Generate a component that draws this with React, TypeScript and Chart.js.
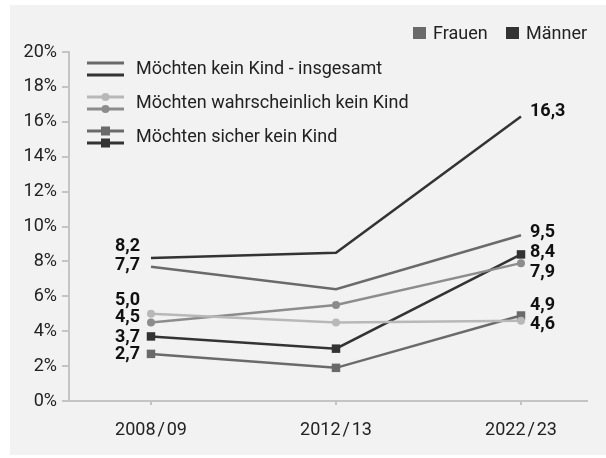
import React, { useEffect, useRef } from "react";
import { Chart, registerables } from "chart.js";

Chart.register(...registerables);

const periods = ["2008\u200A/\u200A09", "2012\u200A/\u200A13", "2022\u200A/\u200A23"];
const yMax = 20;
const yStep = 2;

const insgesamtFrauen = [7.7, 6.4, 9.5];
const insgesamtMaenner = [8.2, 8.5, 16.3];
const wahrscheinlichFrauen = [5.0, 4.5, 4.6];
const wahrscheinlichMaenner = [4.5, 5.5, 7.9];
const sicherFrauen = [2.7, 1.9, 4.9];
const sicherMaenner = [3.7, 3.0, 8.4];

const genderLabels = ["Frauen", "Männer"];
const seriesLabels = [
  "Möchten kein Kind - insgesamt",
  "Möchten wahrscheinlich kein Kind",
  "Möchten sicher kein Kind",
];

// presentation only: vertical nudges of the end labels (px)
const leftNudge = [-1, -11, -13, -5, 1, 1];
const rightNudge = [-3, -5, 4, 9, -10, -2];

const FONT = "Roboto";
const C_DARK = "#333333";
const C_MID = "#6a6a6a";
const C_WAHR_M = "#8c8c8c";
const C_WAHR_F = "#b8b8b8";

const fmt = (v: number) => v.toFixed(1).replace(".", ",");

export default function App() {
  const ref = useRef<HTMLCanvasElement>(null);

  useEffect(() => {
    document.body.style.margin = "0";
    const ctxEl = ref.current!;
    const mk = (d: number[]) => d.map((y, i) => ({ x: i, y }));

    const labelPlugin = {
      id: "endLabels",
      afterDatasetsDraw(chart: any) {
        const { ctx } = chart;
        ctx.save();
        ctx.font = `bold 18px ${FONT}`;
        ctx.fillStyle = "#111";
        ctx.textBaseline = "middle";
        chart.data.datasets.forEach((ds: any, di: number) => {
          const meta = chart.getDatasetMeta(di);
          const p0 = meta.data[0];
          const pN = meta.data[meta.data.length - 1];
          ctx.textAlign = "right";
          ctx.fillText(fmt(ds.data[0].y), p0.x - 11, p0.y + leftNudge[di]);
          ctx.textAlign = "left";
          ctx.fillText(
            fmt(ds.data[ds.data.length - 1].y),
            pN.x + 9,
            pN.y + rightNudge[di]
          );
        });
        ctx.restore();
      },
      afterDraw(chart: any) {
        const { ctx } = chart;
        ctx.save();
        // gender legend (top right)
        ctx.font = `18px ${FONT}`;
        ctx.textBaseline = "middle";
        ctx.textAlign = "left";
        const gColors = [C_MID, C_DARK];
        const gX = [413, 506];
        genderLabels.forEach((t, i) => {
          ctx.fillStyle = gColors[i];
          ctx.fillRect(gX[i], 27, 13, 12);
          ctx.fillStyle = "#222";
          ctx.fillText(t, gX[i] + 20, 34);
        });
        // series legend
        const ys = [69, 103, 137];
        const x0 = 87;
        const x1 = 124;
        seriesLabels.forEach((t, i) => {
          const yc = ys[i];
          const pairs =
            i === 0
              ? [C_MID, C_DARK]
              : i === 1
              ? [C_WAHR_F, C_WAHR_M]
              : [C_MID, C_DARK];
          pairs.forEach((c, k) => {
            const yy = yc - 6 + k * 12;
            ctx.strokeStyle = c;
            ctx.lineWidth = 3;
            ctx.beginPath();
            ctx.moveTo(x0, yy);
            ctx.lineTo(x1, yy);
            ctx.stroke();
            ctx.fillStyle = c;
            if (i === 1) {
              ctx.beginPath();
              ctx.arc((x0 + x1) / 2, yy, 4, 0, Math.PI * 2);
              ctx.fill();
            } else if (i === 2) {
              ctx.fillRect((x0 + x1) / 2 - 4.5, yy - 4.5, 9, 9);
            }
          });
          ctx.fillStyle = "#222";
          ctx.fillText(t, 136, yc);
        });
        ctx.restore();
      },
    };

    const chart = new Chart(ctxEl, {
      type: "line",
      data: {
        datasets: [
          {
            label: "insgesamt Frauen",
            data: mk(insgesamtFrauen),
            borderColor: C_MID,
            borderWidth: 2.5,
            pointRadius: 0,
          },
          {
            label: "insgesamt Männer",
            data: mk(insgesamtMaenner),
            borderColor: C_DARK,
            borderWidth: 2.5,
            pointRadius: 0,
          },
          {
            label: "wahrscheinlich Frauen",
            data: mk(wahrscheinlichFrauen),
            borderColor: C_WAHR_F,
            backgroundColor: C_WAHR_F,
            borderWidth: 2.5,
            pointRadius: 4,
            pointStyle: "circle",
            pointBorderWidth: 0,
          },
          {
            label: "wahrscheinlich Männer",
            data: mk(wahrscheinlichMaenner),
            borderColor: C_WAHR_M,
            backgroundColor: C_WAHR_M,
            borderWidth: 2.5,
            pointRadius: 4,
            pointStyle: "circle",
            pointBorderWidth: 0,
          },
          {
            label: "sicher Frauen",
            data: mk(sicherFrauen),
            borderColor: C_MID,
            backgroundColor: C_MID,
            borderWidth: 2.5,
            pointRadius: 6,
            pointStyle: "rect",
            pointBorderWidth: 0,
          },
          {
            label: "sicher Männer",
            data: mk(sicherMaenner),
            borderColor: C_DARK,
            backgroundColor: C_DARK,
            borderWidth: 2.5,
            pointRadius: 6,
            pointStyle: "rect",
            pointBorderWidth: 0,
          },
        ],
      },
      options: {
        responsive: false,
        animation: false,
        layout: { padding: { top: 52, right: 19, left: 0, bottom: 0 } },
        plugins: { legend: { display: false }, tooltip: { enabled: false } },
        scales: {
          x: {
            type: "linear",
            min: -0.4432,
            max: 2.3568,
            afterBuildTicks: (s: any) => {
              s.ticks = periods.map((_, i) => ({ value: i }));
            },
            afterFit: (s: any) => {
              s.height = 57;
            },
            ticks: {
              autoSkip: false,
              maxRotation: 0,
              padding: 15,
              color: "#222",
              font: { family: FONT, size: 18 },
              callback: (v: any) => periods[v] ?? "",
            },
            grid: {
              drawOnChartArea: false,
              drawTicks: true,
              tickLength: 4,
              color: "#c4c4c4",
              lineWidth: 2,
            },
            border: { display: true, color: "#c4c4c4", width: 2 },
          },
          y: {
            min: 0,
            max: yMax,
            afterFit: (s: any) => {
              s.width = 69;
            },
            ticks: {
              stepSize: yStep,
              padding: 5,
              color: "#222",
              font: { family: FONT, size: 18 },
              callback: (v: any) => `${v}%`,
            },
            grid: {
              drawOnChartArea: false,
              drawTicks: true,
              tickLength: 7,
              color: "#c4c4c4",
              lineWidth: 2,
            },
            border: { display: true, color: "#c4c4c4", width: 2 },
          },
        },
      },
      plugins: [labelPlugin],
    });
    return () => chart.destroy();
  }, []);

  return (
    <div
      style={{
        position: "absolute",
        left: 0,
        top: 0,
        width: 606,
        height: 458,
        background: "#ffffff",
      }}
    >
      <div
        style={{
          position: "absolute",
          left: 10,
          top: 5,
          width: 596,
          height: 450,
          background: "#f2f2f2",
        }}
      />
      <canvas
        ref={ref}
        width={606}
        height={458}
        style={{ position: "absolute", left: 0, top: 0, width: 606, height: 458 }}
      />
    </div>
  );
}
